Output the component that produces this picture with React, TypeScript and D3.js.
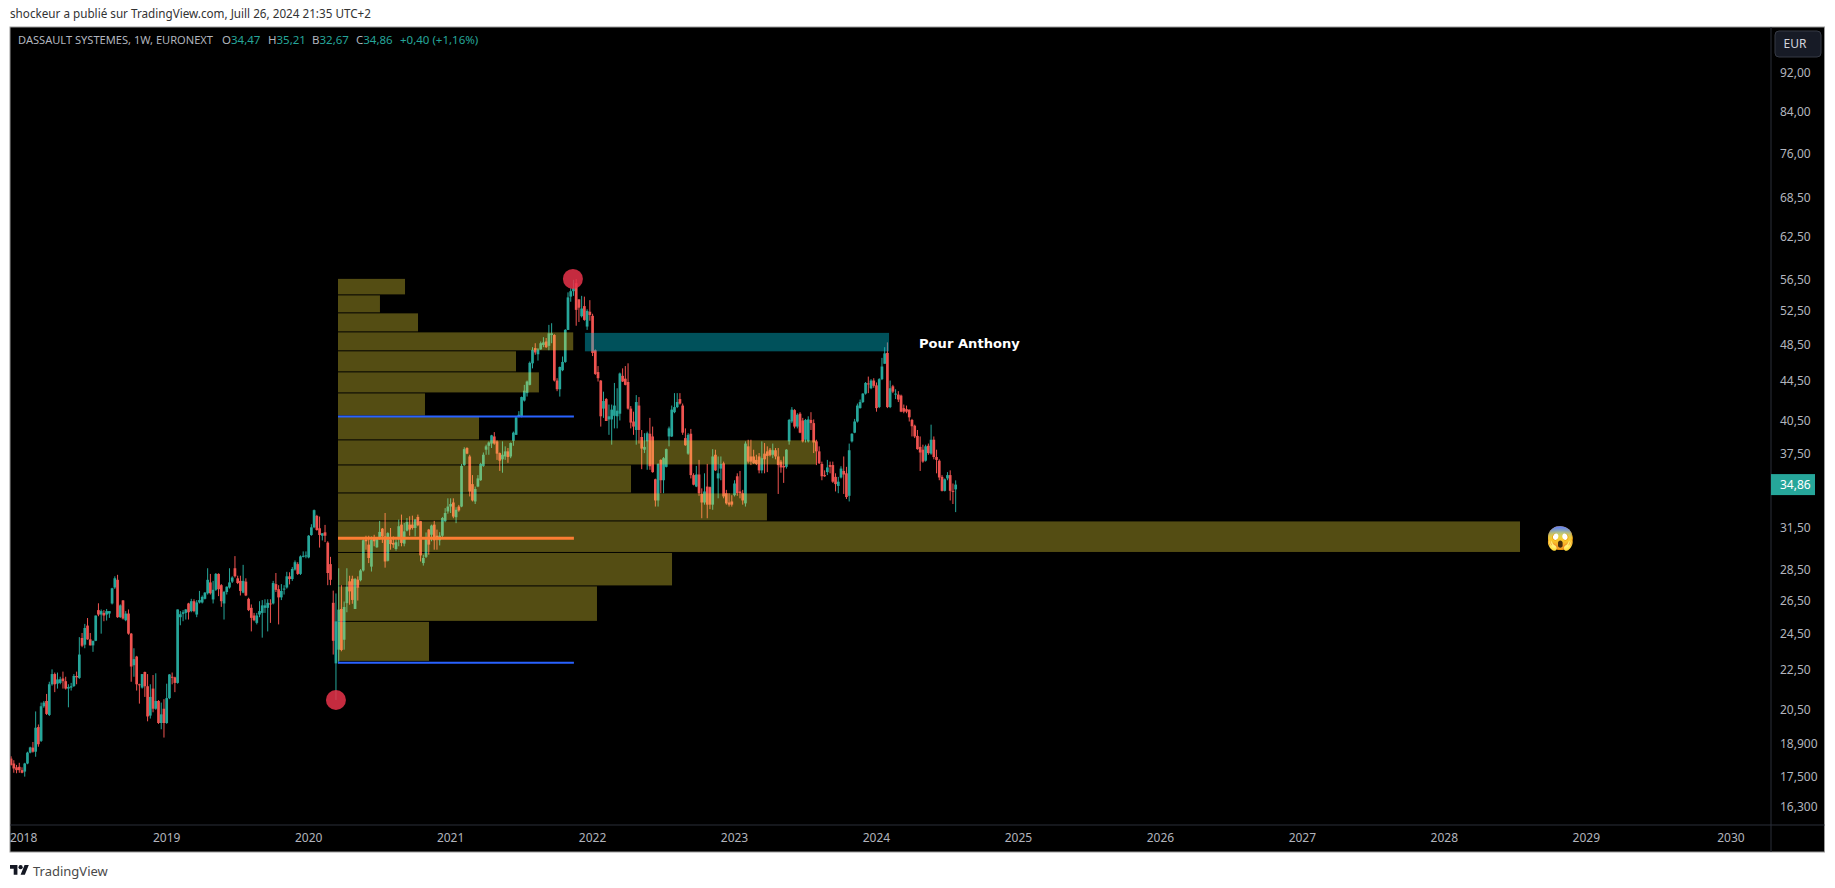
import { useRef, useEffect } from "react";
import * as d3 from "d3";

type Ohlc = [number, number, number, number]; // open, high, low, close

// weekly candles
const candlesDec2017: Ohlc[] = [
  [18.27,18.37,17.97,18.0],[18.06,18.2,17.67,17.85],[17.9,18.0,17.65,17.78],[17.92,18.09,17.67,17.78],
];
const candles2018: Ohlc[] = [
  [17.78,17.9,17.65,17.67],[17.72,18.09,17.51,18.06],[18.06,18.57,18.03,18.53],[18.53,18.79,18.5,18.76],
  [18.75,19.0,18.53,18.57],[18.57,20.42,18.35,19.65],[19.68,19.8,18.79,18.9],[19.05,20.85,19.0,20.67],
  [20.67,20.93,20.6,20.85],[20.93,21.28,20.25,20.3],[20.25,21.9,20.2,21.77],[21.77,22.55,21.7,22.3],
  [22.3,22.38,21.37,21.77],[21.8,22.38,21.55,22.02],[21.84,22.16,21.77,22.03],[22.07,22.43,21.55,21.93],
  [21.93,22.16,21.5,21.55],[21.55,21.77,20.62,21.63],[21.6,21.84,21.45,21.67],[21.68,22.3,21.63,22.2],
  [22.2,22.43,21.77,22.13],[22.1,24.33,22.05,23.35],[24.28,24.57,23.76,23.84],[23.9,25.1,23.7,24.86],
  [25.0,25.45,24.18,24.2],[24.2,24.57,23.86,23.86],[23.86,24.12,23.5,24.12],[24.12,25.6,24.1,25.6],
  [25.93,26.35,25.56,25.66],[25.66,25.97,24.53,25.87],[25.76,25.93,25.26,25.6],[25.66,26.0,25.3,25.87],
  [25.72,25.87,25.46,25.87],[26.34,27.33,26.28,27.3],[27.35,28.08,27.26,27.95],[27.85,28.18,25.46,25.5],
  [25.5,26.28,25.46,26.22],[26.53,26.55,25.36,25.42],[25.32,25.87,25.26,25.72],[25.72,25.97,24.47,24.53],
  [24.53,24.57,21.9,22.7],[22.77,23.7,22.16,23.1],[23.24,23.28,21.45,21.77],[21.77,21.8,20.8,21.75],
  [21.6,22.3,21.55,22.3],[22.41,22.43,21.13,21.67],[21.67,22.3,19.95,20.18],[20.22,21.77,20.08,21.13],
  [21.55,22.25,20.38,20.55],[20.55,22.34,20.5,20.93],[20.93,20.97,19.83,19.87],[19.87,20.85,19.58,20.28],
  [20.55,21.02,19.2,19.87],
];
const candles2019: Ohlc[] = [
  [19.87,21.8,19.83,21.07],[21.07,22.3,21.02,22.28],[22.16,22.38,21.77,22.13],[22.13,22.16,21.37,21.84],
  [21.84,25.97,21.8,25.97],[25.5,25.87,25.02,25.68],[25.7,25.93,25.26,25.8],[25.76,26.0,25.36,25.97],
  [26.34,26.38,25.36,25.8],[25.87,26.63,25.8,26.48],[26.48,26.6,25.8,25.87],[25.66,26.55,25.5,26.4],
  [26.4,27.13,26.34,26.55],[26.4,26.84,26.34,26.75],[26.63,27.06,26.59,27.02],[26.98,28.62,26.9,27.85],
  [27.68,28.24,26.9,26.98],[26.59,27.78,26.34,27.2],[27.2,28.3,27.13,28.24],[28.24,28.28,26.8,27.24],
  [27.5,27.57,26.13,26.48],[26.34,27.13,25.36,27.06],[27.06,27.42,26.9,27.4],[27.35,28.62,27.28,27.68],
  [27.73,28.08,27.64,28.0],[28.62,29.45,28.0,28.08],[27.95,28.12,27.57,27.64],[27.78,28.12,26.84,27.13],
  [27.02,28.85,26.98,27.78],[27.73,27.95,26.8,26.84],[26.63,26.7,25.87,25.93],[26.07,26.28,24.66,25.46],
  [25.6,25.76,25.26,25.32],[25.16,25.76,25.07,25.6],[25.66,26.48,25.5,25.87],[25.76,26.55,24.3,26.22],
  [26.07,26.6,25.76,26.22],[26.07,26.6,24.66,26.38],[26.34,26.6,25.16,26.3],[26.34,27.78,26.28,27.64],
  [27.57,28.3,27.06,27.2],[27.24,27.5,25.07,26.72],[26.72,27.57,26.55,27.13],[27.24,27.5,26.9,27.28],
  [27.35,28.38,27.28,28.08],[28.08,28.35,27.55,27.9],[27.9,28.7,27.78,28.57],[28.53,29.15,28.46,29.03],
  [28.9,29.03,28.17,28.24],[28.24,29.5,28.17,29.43],[29.43,29.78,29.36,29.47],[29.43,29.78,29.3,29.5],
];
const candles2020: Ohlc[] = [
  [29.36,30.95,29.3,30.9],[30.95,31.75,30.9,31.52],[31.52,32.87,31.45,32.82],[32.38,32.46,31.27,31.32],
  [31.45,32.33,30.05,30.95],[30.9,31.08,30.56,31.08],[31.15,31.7,30.44,30.9],[30.4,30.5,27.5,28.3],
  [28.9,29.4,27.5,27.85],[26.38,27.15,23.35,24.12],[22.87,26.97,20.98,25.25],[23.62,28.62,22.87,25.96],
  [26.0,27.5,23.53,23.6],[24.18,26.46,23.62,26.12],[26.36,28.62,25.8,27.4],[27.75,28.12,26.26,27.1],
  [27.92,28.12,26.32,26.56],[26.0,27.97,26.0,27.9],[27.86,28.08,26.52,27.34],[27.82,28.56,27.75,28.47],
  [28.47,30.73,28.4,30.57],[30.62,30.9,29.9,30.5],[30.26,30.9,28.97,29.32],[28.73,30.85,28.4,30.62],
  [30.67,30.97,30.14,30.5],[30.07,30.8,30.03,30.67],[30.67,32.0,30.62,31.18],[31.42,31.47,30.38,30.85],
  [30.85,32.6,28.66,29.08],[29.13,31.16,29.08,31.09],[30.62,31.47,29.9,30.3],[30.38,30.85,30.03,30.26],
  [29.95,30.62,29.83,30.43],[30.8,32.1,30.14,31.6],[31.72,32.48,30.14,30.38],[30.33,31.84,30.14,31.22],
  [31.27,32.22,31.22,31.92],[31.72,32.35,30.9,31.35],[31.72,32.4,31.35,31.47],[31.47,32.15,30.85,32.1],
  [32.3,32.48,31.6,31.67],[31.98,32.0,29.08,29.5],[28.97,29.55,28.8,29.32],[29.4,31.14,29.32,30.67],
  [31.35,31.4,29.55,30.26],[30.97,31.72,30.5,31.65],[31.72,32.0,29.9,30.57],[30.9,31.35,29.9,30.62],
  [30.57,31.16,30.2,30.9],[30.9,32.3,30.8,32.22],[31.98,32.98,31.9,32.6],[32.72,33.75,32.55,33.1],
];
const candles2021: Ohlc[] = [
  [33.1,33.75,32.6,33.3],[33.42,33.75,32.2,32.33],[32.28,33.05,31.83,32.85],[33.1,33.23,32.7,32.8],
  [33.1,36.6,33.05,36.43],[36.5,38.07,36.43,37.9],[38.0,38.07,37.45,37.5],[37.25,37.4,33.9,34.3],
  [34.9,35.65,33.5,33.58],[33.5,34.7,33.3,34.5],[34.7,35.65,34.65,35.37],[35.22,36.7,35.17,36.6],
  [36.43,37.6,36.35,37.4],[37.85,38.3,37.4,38.15],[38.2,38.6,37.4,38.5],[38.4,39.2,38.0,39.15],
  [39.05,39.45,38.3,38.4],[38.6,38.7,36.95,37.5],[37.55,37.6,36.0,36.88],[37.0,38.6,35.85,37.4],
  [37.25,38.15,36.95,37.7],[37.7,38.0,36.7,37.2],[37.25,38.5,37.1,38.45],[38.65,39.5,38.2,39.4],
  [39.2,40.9,39.2,40.85],[40.95,41.45,40.85,41.1],[40.95,42.9,40.85,42.85],[42.5,44.1,42.4,43.5],
  [43.25,44.55,42.9,44.45],[44.1,46.6,44.05,46.45],[46.4,48.2,45.85,47.9],[48.1,48.65,47.35,47.6],
  [47.4,48.1,46.7,47.95],[47.95,48.85,47.9,48.65],[48.45,49.35,48.2,48.75],[48.85,49.25,48.1,48.2],
  [48.35,50.8,47.85,49.8],[49.6,51.0,48.65,49.8],[49.6,49.7,44.45,44.55],[44.55,44.8,43.45,43.65],
  [43.65,46.05,42.9,46.0],[45.65,47.15,45.55,46.55],[46.55,50.3,46.45,50.2],[50.2,54.85,50.2,54.2],
  [54.3,55.4,53.65,55.0],[55.0,56.5,54.4,55.4],[56.05,56.6,50.7,52.63],[53.95,53.95,51.15,52.9],
  [51.85,54.4,51.7,52.8],[53.1,54.3,51.3,51.4],[50.6,52.7,50.2,52.5],[52.4,53.85,51.3,52.0],
];
const candles2022: Ohlc[] = [
  [51.9,52.15,47.2,47.55],[47.85,47.95,45.15,45.25],[45.45,46.1,44.45,44.8],[44.55,44.6,39.97,40.95],
  [41.7,43.4,40.8,42.45],[42.65,42.75,40.5,40.5],[40.65,42.1,39.2,40.95],[40.65,42.1,38.3,41.6],
  [41.0,44.3,39.8,42.0],[40.95,43.75,39.8,41.5],[41.2,45.4,40.55,45.3],[45.05,45.85,44.4,44.45],
  [44.75,46.1,44.05,44.1],[44.4,46.4,41.6,41.7],[41.7,41.95,39.8,40.35],[40.45,41.4,39.2,39.97],
  [39.65,43.05,38.3,42.35],[42.0,42.85,38.4,39.65],[39.0,39.65,36.15,37.95],[37.85,39.35,37.55,38.1],
  [38.6,39.5,36.1,39.35],[39.3,40.8,36.1,36.4],[39.05,39.97,35.85,35.9],[35.3,35.35,33.1,33.58],
  [33.58,36.65,33.1,36.6],[36.95,37.0,34.16,35.22],[35.22,37.2,34.16,37.1],[36.35,37.95,36.3,37.9],
  [39.05,39.97,38.15,39.8],[39.05,42.0,39.0,41.6],[41.35,43.25,41.25,41.85],[41.85,43.25,41.75,42.35],
  [42.65,43.25,42.1,42.2],[42.0,42.2,39.2,39.4],[38.9,39.8,38.2,38.25],[37.5,39.35,37.4,39.2],
  [39.3,39.75,35.37,35.65],[35.65,35.8,34.8,34.85],[34.7,36.43,34.65,35.7],[35.7,36.95,33.95,34.16],
  [34.1,34.55,32.2,33.42],[33.42,35.8,33.25,34.3],[34.7,36.6,32.2,33.25],[34.65,34.7,32.9,33.25],
  [33.25,37.9,32.85,37.25],[37.4,37.85,36.0,36.05],[35.37,37.25,33.75,35.8],[36.2,37.25,35.22,36.6],
  [36.65,36.8,33.75,33.9],[34.16,34.43,33.25,33.35],[33.42,34.16,33.1,33.25],[33.5,34.0,33.1,33.25],
];
const candles2023: Ohlc[] = [
  [34.0,35.22,33.9,34.95],[35.55,35.8,33.95,34.16],[34.3,36.0,33.75,34.16],[34.16,34.43,33.25,33.58],
  [33.35,38.6,33.1,38.4],[38.15,38.75,36.65,36.8],[37.25,38.75,36.5,36.8],[37.25,37.85,36.6,36.65],
  [36.95,37.4,36.5,36.6],[37.25,37.55,35.8,36.05],[36.05,38.6,35.8,37.1],[37.5,38.45,35.8,37.0],
  [37.7,38.15,35.9,37.3],[37.85,38.0,37.25,37.35],[37.4,38.4,37.1,37.8],[37.8,38.0,37.0,37.25],
  [37.25,38.0,34.1,36.5],[36.8,36.95,35.85,36.3],[36.43,37.25,35.0,36.3],[36.35,37.9,36.2,37.85],
  [38.6,40.7,38.3,40.6],[40.45,41.85,40.3,41.6],[41.55,41.65,39.8,39.97],[39.97,41.25,39.8,41.1],
  [41.2,41.35,39.35,39.4],[40.55,40.8,38.5,38.6],[38.75,40.7,38.5,40.6],[38.6,40.95,38.5,40.65],
  [40.6,41.35,39.65,40.3],[40.3,40.65,37.55,38.5],[38.6,38.75,36.5,37.7],[37.7,38.15,36.6,36.65],
  [36.6,36.8,35.22,35.55],[35.65,36.05,35.5,35.55],[35.9,36.95,35.65,36.3],[36.5,36.8,35.8,36.35],
  [36.5,36.8,35.0,35.1],[35.5,35.8,34.3,34.9],[34.75,35.5,34.16,35.1],[35.45,36.4,35.37,36.2],
  [36.0,37.25,34.1,35.7],[35.8,36.35,33.7,33.85],[33.95,38.4,33.5,37.8],[38.6,39.35,38.5,39.3],
  [39.4,40.7,39.35,40.45],[40.45,42.2,40.35,42.0],[41.75,42.6,41.7,42.35],[42.35,43.25,42.25,43.2],
  [43.2,44.4,43.1,44.3],[44.25,44.97,43.25,44.15],[43.75,44.7,43.65,44.55],[44.55,44.8,43.8,44.0],
];
const candles2024: Ohlc[] = [
  [44.05,44.35,41.4,41.75],[41.85,44.8,41.75,44.7],[44.7,47.0,44.6,46.05],[46.35,48.2,46.35,47.5],
  [47.55,48.75,41.75,41.85],[41.85,44.55,41.75,43.75],[43.95,44.1,43.25,43.4],[43.15,43.65,42.65,43.2],
  [43.1,43.45,42.35,42.6],[43.0,43.1,41.35,41.4],[41.75,42.1,41.25,41.4],[41.65,42.0,41.25,41.4],
  [41.6,41.6,40.45,40.85],[40.6,40.7,39.05,40.0],[40.05,40.15,38.9,39.05],[39.1,39.65,37.85,37.9],
  [38.1,39.05,36.0,37.6],[37.85,38.3,36.7,36.8],[36.88,38.3,36.8,38.15],[38.2,38.4,37.4,37.55],
  [37.5,40.15,37.4,38.75],[38.75,39.05,37.0,37.2],[37.2,37.85,35.8,36.95],[36.88,37.0,35.22,35.45],
  [35.5,35.65,34.3,34.35],[34.35,35.37,34.3,35.3],[35.37,35.9,35.22,35.65],[35.65,36.05,33.58,34.35],
  [34.35,34.95,33.3,34.3],[34.47,35.21,32.67,34.86],
];
// week number (0 = 1 Jan 2018) of the first candle of each list
const candleBlocks: [number, Ohlc[]][] = [
  [-4, candlesDec2017], [0, candles2018], [53, candles2019], [105, candles2020],
  [157, candles2021], [209, candles2022], [261, candles2023], [313, candles2024],
];

const priceTicks = [92, 84, 76, 68.5, 62.5, 56.5, 52.5, 48.5, 44.5, 40.5, 37.5, 31.5, 28.5, 26.5, 24.5, 22.5, 20.5, 18.9, 17.5, 16.3];
const yearLabels = ["2018", "2019", "2020", "2021", "2022", "2023", "2024", "2025", "2026", "2027", "2028", "2029", "2030"];
const yearWeeks = [0.6, 53, 105, 157, 209, 261, 313, 365, 417, 469, 521, 573, 626];

// fixed range volume profile: price levels top to bottom, one volume per row (% of the largest)
const profileLevels = [56.62, 54.46, 52.2, 49.91, 47.73, 45.42, 43.22, 40.94, 38.69, 36.47, 34.14, 31.96, 29.67, 27.42, 25.22, 22.95];
const profileVolumes = [5.67, 3.55, 6.77, 19.9, 15.06, 17.0, 7.36, 11.93, 40.44, 24.79, 36.29, 100, 28.26, 21.91, 7.7];
const profileWeeks = [115.75, 201.8];
const valueHigh = 40.94;
const valueLow = 22.9;
const pointOfControl = 30.72;
const lastClose = 34.86;
const zoneWeeks = [206.2, 317.6];
const zonePrices = [49.85, 47.73];
const markers = [{ week: 115, price: 20.98 }, { week: 201.8, price: 56.62 }];

const up = "#26a69a";
const down = "#ef5350";
const axisText = "#b2b5be";
const uiFont = "'Noto Sans', 'DejaVu Sans', sans-serif";

export default function App() {
  const svgRef = useRef<SVGSVGElement | null>(null);

  useEffect(() => {
    if (!svgRef.current) return;
    const svg = d3.select(svgRef.current);
    svg.selectAll("*").remove();

    const panel = { left: 10, top: 27, right: 1824.5, bottom: 852, axisX: 1771, axisY: 825 };
    const x = d3.scaleLinear().domain([0, 626]).range([22, 22 + 626 * 2.73]);
    const y = d3.scaleLog().domain([16.3, 92]).range([807, 73]);
    const vol = d3.scaleLinear().domain([0, 100]).range([x(profileWeeks[0]), 1520]);
    const comma = (v: number) => (v < 20 ? d3.format(".3f")(v).replace(".", ",") : d3.format(".2f")(v).replace(".", ","));

    svg.append("text").attr("x", 10).attr("y", 18).attr("font-size", 11.7).attr("fill", "#333")
      .text("shockeur a publié sur TradingView.com, Juill 26, 2024 21:35 UTC+2");

    svg.append("rect").attr("x", panel.left).attr("y", panel.top)
      .attr("width", panel.right - panel.left).attr("height", panel.bottom - panel.top)
      .attr("fill", "#000").attr("stroke", "#9a9a9a");

    svg.append("defs").append("clipPath").attr("id", "pane").append("rect")
      .attr("x", panel.left + 0.5).attr("y", panel.top + 0.5)
      .attr("width", panel.axisX - panel.left - 0.5).attr("height", panel.axisY - panel.top - 0.5);
    const pane = svg.append("g").attr("clip-path", "url(#pane)");

    // candles
    const candles = candleBlocks.flatMap(([start, rows]) =>
      rows.map((r, i) => ({ week: start + i, o: r[0], h: r[1], l: r[2], c: r[3] })));
    const candle = pane.append("g").selectAll("g").data(candles).join("g")
      .attr("fill", d => (d.c >= d.o ? up : down));
    candle.append("rect").attr("x", d => x(d.week) - 0.5).attr("width", 1)
      .attr("y", d => y(d.h)).attr("height", d => y(d.l) - y(d.h));
    candle.append("rect").attr("x", d => x(d.week) - 1.35).attr("width", 2.7)
      .attr("y", d => y(Math.max(d.o, d.c))).attr("height", d => Math.max(1, Math.abs(y(d.o) - y(d.c))));

    // volume profile sits over the candles
    pane.append("g").selectAll("rect").data(profileVolumes).join("rect")
      .attr("x", vol(0))
      .attr("y", (_, i) => y(profileLevels[i]))
      .attr("width", d => vol(d) - vol(0))
      .attr("height", (_, i) => y(profileLevels[i + 1]) - y(profileLevels[i]) - 1)
      .attr("fill", "#ffeb3b").attr("fill-opacity", 0.33);

    const levelLine = (price: number, color: string, width: number) =>
      pane.append("line").attr("x1", x(profileWeeks[0])).attr("x2", x(profileWeeks[1]) + 1)
        .attr("y1", y(price)).attr("y2", y(price)).attr("stroke", color).attr("stroke-width", width);
    levelLine(valueHigh, "#2962ff", 2);
    levelLine(valueLow, "#2962ff", 2);
    levelLine(pointOfControl, "#fb7d33", 3);

    pane.append("rect").attr("x", x(zoneWeeks[0])).attr("width", x(zoneWeeks[1]) - x(zoneWeeks[0]))
      .attr("y", y(zonePrices[0])).attr("height", y(zonePrices[1]) - y(zonePrices[0]))
      .attr("fill", "#00bcd4").attr("fill-opacity", 0.43);

    pane.append("g").selectAll("circle").data(markers).join("circle")
      .attr("cx", d => x(d.week)).attr("cy", d => y(d.price)).attr("r", 10)
      .attr("fill", "#e8324a").attr("fill-opacity", 0.85);

    pane.append("text").attr("x", 919).attr("y", 348).attr("fill", "#fff").attr("font-size", 13.1)
      .attr("font-weight", 700).attr("font-family", "'DejaVu Sans', sans-serif").text("Pour Anthony");
    pane.append("text").attr("x", 1561).attr("y", 546).attr("text-anchor", "middle").attr("font-size", 23)
      .attr("font-family", "'Noto Color Emoji', sans-serif").text("😱");

    // dividers
    svg.append("line").attr("x1", panel.axisX).attr("x2", panel.axisX).attr("y1", panel.top).attr("y2", panel.bottom).attr("stroke", "#2a2e39");
    svg.append("line").attr("x1", panel.left).attr("x2", panel.right).attr("y1", panel.axisY).attr("y2", panel.axisY).attr("stroke", "#2a2e39");

    // price axis
    svg.append("g").selectAll("text").data(priceTicks).join("text")
      .attr("x", 1780).attr("y", d => y(d)).attr("dy", "0.35em").attr("font-size", 12)
      .attr("fill", axisText).text(d => comma(d));
    svg.append("rect").attr("x", panel.axisX).attr("y", y(lastClose) - 10.5).attr("width", 44).attr("height", 21).attr("fill", up);
    svg.append("text").attr("x", 1780).attr("y", y(lastClose)).attr("dy", "0.35em").attr("font-size", 12)
      .attr("fill", "#fff").text(comma(lastClose));

    svg.append("rect").attr("x", 1775).attr("y", 31).attr("width", 46).attr("height", 26).attr("rx", 4)
      .attr("fill", "#171b26").attr("stroke", "#363a45");
    svg.append("text").attr("x", 1795).attr("y", 44).attr("dy", "0.35em").attr("text-anchor", "middle")
      .attr("font-size", 12).attr("fill", "#d1d4dc").text("EUR");

    // time axis
    svg.append("g").selectAll("text").data(yearLabels).join("text")
      .attr("x", (_, i) => x(yearWeeks[i])).attr("y", 838).attr("dy", "0.35em").attr("text-anchor", "middle")
      .attr("font-size", 12).attr("fill", axisText).text(d => d);

    // legend
    const legend = svg.append("text").attr("x", 18).attr("y", 40).attr("dy", "0.35em").attr("font-size", 11.5).attr("fill", axisText);
    legend.append("tspan").attr("font-size", 11.1).text("DASSAULT SYSTEMES, 1W, EURONEXT");
    const legendParts: [number, string, string][] = [
      [222, "O", "34,47"], [268, "H", "35,21"], [312, "B", "32,67"], [356, "C", "34,86"],
    ];
    legendParts.forEach(([px, letter, value]) => {
      legend.append("tspan").attr("x", px).text(letter);
      legend.append("tspan").attr("fill", up).text(value);
    });
    legend.append("tspan").attr("x", 400).attr("fill", up).text("+0,40 (+1,16%)");

    // footer logo
    const logo = svg.append("g").attr("transform", "translate(10,863) scale(0.53)").attr("fill", "#131722");
    logo.append("path").attr("d", "M14 22H7V11H0V4h14v18zM28 22h-8l7.5-18h8L28 22z");
    logo.append("circle").attr("cx", 20).attr("cy", 8).attr("r", 4);
    svg.append("text").attr("x", 33).attr("y", 871).attr("dy", "0.35em").attr("font-size", 13).attr("fill", "#4a4a4a").text("TradingView");
  }, []);

  return (
    <svg ref={svgRef} width={1835} height={888} fontFamily={uiFont}
      style={{ position: "absolute", left: 0, top: 0, display: "block", background: "#fff" }} />
  );
}
